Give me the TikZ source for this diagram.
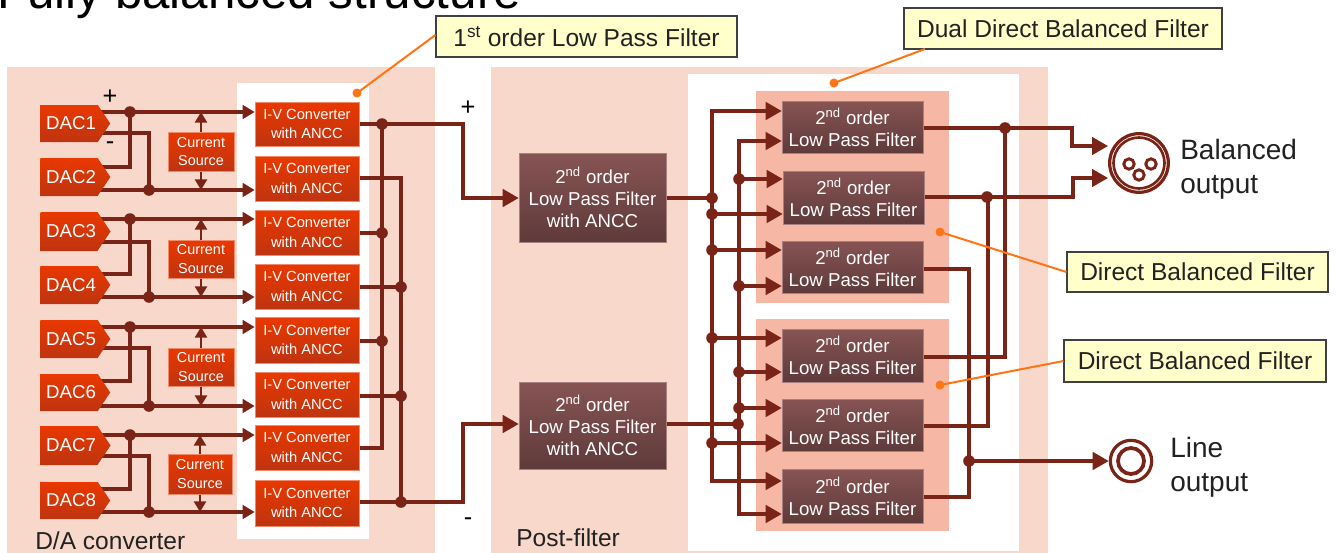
\documentclass[tikz,border=0pt]{standalone}
\usepackage{fontspec}
\setmainfont{Liberation Sans}
\usetikzlibrary{arrows.meta,shapes.symbols,calc}
\pgfdeclarelayer{bg}\pgfdeclarelayer{wires}
\pgfsetlayers{bg,wires,main}
\definecolor{panel}{HTML}{F9D8CC}
\definecolor{panelb}{HTML}{F6B8A5}
\definecolor{wirec}{HTML}{7A2418}
\definecolor{redtop}{HTML}{EA3800}
\definecolor{redbot}{HTML}{BE3410}
\definecolor{redline}{HTML}{F08A6A}
\definecolor{brtop}{HTML}{875454}
\definecolor{brbot}{HTML}{5F3A3A}
\definecolor{brline}{HTML}{A88080}
\definecolor{callfill}{HTML}{FFFFCC}
\definecolor{callline}{HTML}{404040}
\definecolor{callout}{HTML}{FF7515}
\definecolor{ink}{HTML}{222222}
\tikzset{
  x=0.75pt,y=-0.75pt,
  boxbase/.style={inner sep=0pt,align=center,white},
  ivbox/.style={boxbase,draw=redline,line width=.4pt,top color=redtop,bottom color=redbot,font=\fontsize{11}{14.5}\selectfont},
  csbox/.style={boxbase,draw=redline,line width=.4pt,top color=redtop,bottom color=redbot,font=\fontsize{10.8}{14}\selectfont},
  fltbox/.style={boxbase,draw=brline,line width=.4pt,top color=brtop,bottom color=brbot,font=\fontsize{14}{16.5}\selectfont},
  dacbox/.style={boxbase,shape=signal,signal to=east,signal pointer angle=112,top color=redtop,bottom color=redbot,font=\fontsize{14}{16}\selectfont},
  callbox/.style={inner sep=0pt,draw=callline,line width=.8pt,fill=callfill,text=ink,font=\fontsize{18.4}{22}\selectfont},
  plain/.style={inner sep=0pt,text=ink,font=\fontsize{18.4}{22}\selectfont},
  signmark/.style={inner sep=0pt,text=black,font=\fontsize{19}{20}\selectfont},
  big/.style={inner sep=0pt,align=left,text=ink,font=\fontsize{21}{25.5}\selectfont},
  wire/.style={draw=wirec,line width=2.6pt,line join=miter},
  arr/.style={wire,-{Triangle[length=12pt,width=13pt]}},
  arrs/.style={wire,line width=2pt,-{Triangle[length=8pt,width=9pt]}},
  arrm/.style={wire,-{Triangle[length=9pt,width=10pt]}},
  dotc/.style={fill=wirec},
  leader/.style={draw=callout,line width=1.5pt},
  conn/.style={draw=wirec,circle,inner sep=0pt,line width=2.4pt,fill=white},
}
% name, x0, y0, x1, y1, style, text
\newcommand\pxbox[7]{%
  \pgfmathsetmacro\cxx{(#2+#4)/2}\pgfmathsetmacro\cyy{(#3+#5)/2}%
  \pgfmathsetmacro\wpt{(#4-#2)*0.75}\pgfmathsetmacro\hpt{(#5-#3)*0.75}%
  \node[#6,minimum width=\wpt pt,minimum height=\hpt pt] (#1) at (\cxx,\cyy) {#7};}
\newcommand\jdot[1]{\fill[dotc] (#1) circle (5.8);}
\begin{document}
\begin{tikzpicture}
\useasboundingbox (0,0) rectangle (1336,553);
\clip (0,0) rectangle (1336,553);
\node[inner sep=0pt,anchor=base west,text=black,font=\fontsize{37}{42}\selectfont] (title) at (-3,8) {Fully balanced structure};
\begin{pgfonlayer}{bg}
  \fill[panel] (7,67) rectangle (435,553);
  \fill[panel] (491,67) rectangle (1048,553);
  \fill[white] (237,83) rectangle (369,539);
  \fill[white] (688,74) rectangle (1019,551);
  \fill[panelb] (756,91) rectangle (949,303);
  \fill[panelb] (756,319) rectangle (949,531);
\end{pgfonlayer}
% DACs
\foreach \i/\t/\b in {1/105/142,2/158/196,3/212/251,4/266/304,5/320/358,6/374/411,7/426/465,8/482/519}{
  \pxbox{dac\i}{34}{\t}{104}{\b}{dacbox}{\hspace*{3pt}DAC\i}
}
% I-V converters
\foreach \i/\t/\b in {1/102/146,2/156/201,3/210/255,4/264/309,5/317/363,6/372/417,7/425/470,8/480/526}{
  \pxbox{iv\i}{255}{\t}{359}{\b}{ivbox}{I-V Converter\\with ANCC}
}
% current sources
\pxbox{cs1}{168}{132}{234}{171}{csbox}{Current\\Source}
\pxbox{cs3}{168}{240}{234}{278}{csbox}{Current\\Source}
\pxbox{cs5}{168}{348}{234}{386}{csbox}{Current\\Source}
\pxbox{cs7}{168}{454}{232}{494}{csbox}{Current\\Source}
% post filters
\pxbox{pfa}{519}{153}{666}{242}{fltbox}{2\textsuperscript{nd} order\\Low Pass Filter\\with ANCC}
\pxbox{pfb}{519}{382}{666}{469}{fltbox}{2\textsuperscript{nd} order\\Low Pass Filter\\with ANCC}
\foreach \i/\l/\t/\r/\b in {1/782/101/923/153,2/783/171/924/224,3/782/241/923/293,4/782/329/923/382,5/782/399/923/451,6/782/469/923/523}{
  \pxbox{f\i}{\l}{\t}{\r}{\b}{fltbox}{2\textsuperscript{nd} order\\Low Pass Filter}
}
% connectors
\node[conn,minimum size=44pt] (bal) at (1139,163) {};
\draw[wirec,line width=2pt] (bal.center) circle (25.5);
\foreach \dx/\dy in {-10/1,12/1,0/12}{
  \draw[wirec,line width=2.2pt] ($(bal.center)+(\dx,\dy)$) circle (5.2);
}
\node[conn,minimum size=31pt] (lin) at (1131,461) {};
\draw[wirec,line width=2.8pt] (lin.center) circle (13);
% DAC wiring
\begin{pgfonlayer}{wires}
\foreach \a/\b/\ya/\yb/\yc/\yd in {1/2/112/133/167/190,3/4/219/242/274/297,5/6/327/348/381/406,7/8/435/456/489/512}{
  \coordinate (ja\a) at (130,\ya);
  \coordinate (jb\a) at (149,\yd);
  \draw[arrm] (dac\a.center |- ja\a) -- (iv\a.west |- ja\a);
  \draw[arrm] (dac\b.center |- jb\a) -- (iv\b.west |- jb\a);
  \draw[wire] (ja\a) -- (130,\yc) -- (dac\b.center |- 130,\yc);
  \draw[wire] (dac\a.center |- 149,\yb) -- (149,\yb) -- (jb\a);
  \jdot{ja\a}\jdot{jb\a}
  \draw[arrs] (cs\a.north) -- (cs\a.north |- ja\a);
  \draw[arrs] (cs\a.south) -- (cs\a.south |- jb\a);
}
% I-V outputs
\coordinate (bus1) at (382,124);
\coordinate (bus2) at (401,502);
\coordinate (bus1e) at (382,448);
\coordinate (bus2t) at (401,178);
\draw[wire] (bus1) -- (bus1e) -- (iv7.east |- bus1e);
\draw[wire] (iv2.east |- bus2t) -- (bus2t) -- (bus2);
\draw[arr] (iv1.east |- bus1) -- (463,124) -- (463,198) -- (pfa.west |- 0,198);
\draw[arr] (iv8.east |- bus2) -- (463,502) -- (463,424) -- (pfb.west |- 0,424);
\jdot{bus1}\jdot{bus2}
\foreach \i/\y in {3/233,5/341}{
  \coordinate (o\i) at (382,\y);
  \draw[wire] (iv\i.east |- o\i) -- (o\i); \jdot{o\i}
}
\foreach \i/\y in {4/287,6/396}{
  \coordinate (o\i) at (401,\y);
  \draw[wire] (iv\i.east |- o\i) -- (o\i); \jdot{o\i}
}
% post-filter buses
\coordinate (ba) at (712,198);
\coordinate (bb) at (738,424);
\draw[wire] (pfa.east |- ba) -- (ba);
\draw[wire] (pfb.east |- bb) -- (bb);
\draw[arr] (712,198) -- (712,111) -- (f1.west |- 0,111);
\draw[arr] (712,198) -- (712,481) -- (f6.west |- 0,481);
\draw[arr] (739,424) -- (739,141) -- (f1.west |- 0,141);
\draw[arr] (739,424) -- (739,514) -- (f6.west |- 0,514);
\jdot{ba}\jdot{bb}
\foreach \i/\y in {2/214,3/250,4/338,5/443}{
  \coordinate (p\i) at (712,\y);
  \draw[arr] (p\i) -- (f\i.west |- p\i); \jdot{p\i}
}
\foreach \i/\y in {2/179,3/286,4/372,5/408}{
  \coordinate (q\i) at (739,\y);
  \draw[arr] (q\i) -- (f\i.west |- q\i); \jdot{q\i}
}
% filter outputs
\coordinate (ob1) at (1005,128);
\coordinate (ob2) at (987,197);
\coordinate (ol) at (969,461);
\draw[arr] (f1.east |- ob1) -- (1072,128) -- (1072,146) -- (bal.west |- 0,146);
\draw[arr] (f2.east |- ob2) -- (1073,197) -- (1073,178) -- (bal.west |- 0,178);
\draw[wire] (ob1) -- (1005,357) -- (f4.east |- 0,357);
\draw[wire] (ob2) -- (988,197) -- (988,426) -- (f5.east |- 0,426);
\draw[wire] (f3.east |- 0,269) -- (969,269) -- (969,497) -- (f6.east |- 0,497);
\draw[arr] (ol) -- (lin.west |- ol);
\jdot{ob1}\jdot{ob2}\jdot{ol}
\end{pgfonlayer}
% callouts
\pxbox{cA}{436}{16}{737}{57}{callbox}{1\textsuperscript{st} order Low Pass Filter}
\pxbox{cB}{904}{8}{1222}{49}{callbox}{Dual Direct Balanced Filter}
\pxbox{cC}{1067}{252}{1328}{292}{callbox}{Direct Balanced Filter}
\pxbox{cD}{1064}{340}{1326}{382}{callbox}{Direct Balanced Filter}
\coordinate (tA) at (357,93);
\coordinate (tB) at (834,83);
\coordinate (tC) at (940,232);
\coordinate (tD) at (940,385);
\draw[leader] (tA) -- (cA.west |- 0,35);
\draw[leader] (tB) -- (925,49);
\draw[leader] (tC) -- (cC.west);
\draw[leader] (tD) -- (cD.west);
\foreach \p in {tA,tB,tC,tD}{\fill[callout] (\p) circle (4.5);}
% labels
\node[signmark] (plus1) at (110,97) {+};
\node[signmark] (minus1) at (110,146) {-};
\node[signmark] (plus2) at (468,108) {+};
\node[signmark] (minus2) at (468,522) {-};
\node[plain,anchor=base west] (dalabel) at (35,549) {D/A converter};
\node[plain,anchor=base west] (pflabel) at (516,546) {Post-filter};
\node[big,anchor=west] (ballabel) at (1180,169) {Balanced\\output};
\node[big,anchor=west] (linlabel) at (1170,467) {Line\\output};
\end{tikzpicture}
\end{document}
